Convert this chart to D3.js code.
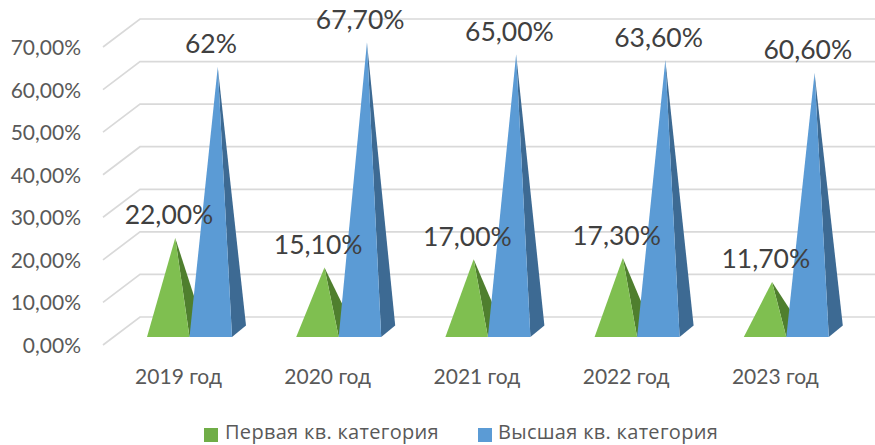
<!DOCTYPE html>
<html><head><meta charset="utf-8">
<script src="https://cdnjs.cloudflare.com/ajax/libs/d3/7.8.5/d3.min.js"></script>
<style>html,body{margin:0;padding:0;background:#fff;overflow:hidden}svg{display:block}</style>
</head><body><svg id="c" width="875" height="445"></svg>
<script>
const categories = ["2019 год","2020 год","2021 год","2022 год","2023 год"];
const firstCat = [22.0,15.1,17.0,17.3,11.7];
const topCat = [62.0,67.7,65.0,63.6,60.6];
const firstLabels = ["22,00%","15,10%","17,00%","17,30%","11,70%"];
const topLabels = ["62%","67,70%","65,00%","63,60%","60,60%"];
const axisTicks = [0,10,20,30,40,50,60,70];
const seriesNames = ["Первая кв. категория","Высшая кв. категория"];
const colors = {first:"#7fbf50",firstSide:"#4f7f2e",top:"#5b9bd5",topSide:"#3d6a93",grid:"#d9d9d9",label:"#404040",axis:"#595959"};

const svg = d3.select("#c");
const font = "Lato, Carlito, sans-serif";
const x = d3.scaleBand().domain(categories).range([147,147+149.2*5]).paddingInner(0);
const barW = 42.5;
const yFront = d3.scaleLinear().domain([0,70]).range([345,47]);
const yApex = d3.scaleLinear().domain([0,70]).range([332,332-70*4.275]);
const depthX = 37, depthY = 28, barDX = 14, barDY = 11.5, baseY = 337;

// gridlines
const g = svg.append("g");
axisTicks.forEach(t=>{
  const y0 = yFront(t);
  g.append("path").attr("d",`M103,${y0}L${103+depthX},${y0-depthY}L875,${y0-depthY}`)
    .attr("fill","none").attr("stroke",colors.grid).attr("stroke-width",1.7);
  svg.append("text").attr("x",81).attr("y",y0+8).attr("text-anchor","end")
    .attr("font-family",font).attr("font-size",21).attr("fill",colors.axis)
    .text(d3.format(".2f")(t).replace(".",",")+"%");
});

function pyramid(left,val,front,side){
  const right = left+barW;
  const ax = left+barW/2+barDX/2, ay = yApex(val);
  svg.append("path").attr("d",`M${right},${baseY}L${right+barDX},${baseY-barDY}L${ax},${ay}Z`).attr("fill",side);
  svg.append("path").attr("d",`M${left},${baseY}L${right},${baseY}L${ax},${ay}Z`).attr("fill",front);
}
categories.forEach((c,i)=>{
  const l = x(c);
  pyramid(l,firstCat[i],colors.first,colors.firstSide);
  pyramid(l+barW,topCat[i],colors.top,colors.topSide);
  svg.append("text").attr("x",l+31.5).attr("y",384).attr("text-anchor","middle")
    .attr("font-family",font).attr("font-size",21).attr("fill",colors.axis).text(c);
});
categories.forEach((c,i)=>{
  const l = x(c);
  [[firstCat,firstLabels,l+22],[topCat,topLabels,l+64]].forEach(([v,t,cx])=>{
    svg.append("text").attr("x",cx).attr("y",yApex(v[i])-13.5).attr("text-anchor","middle")
      .attr("font-family",font).attr("font-size",26.5).attr("fill",colors.label).text(t[i]);
  });
});
// legend
[[204,225,colors.first],[478,498,colors.top]].forEach(([sx,tx,col],i)=>{
  svg.append("rect").attr("x",sx).attr("y",428).attr("width",14).attr("height",14).attr("fill",i?col:"#70ad47");
  svg.append("text").attr("x",tx).attr("y",439).attr("font-family","'Open Sans', sans-serif").attr("font-size",20)
    .attr("letter-spacing",0.3).attr("fill",colors.axis).text(seriesNames[i]);
});
</script></body></html>
